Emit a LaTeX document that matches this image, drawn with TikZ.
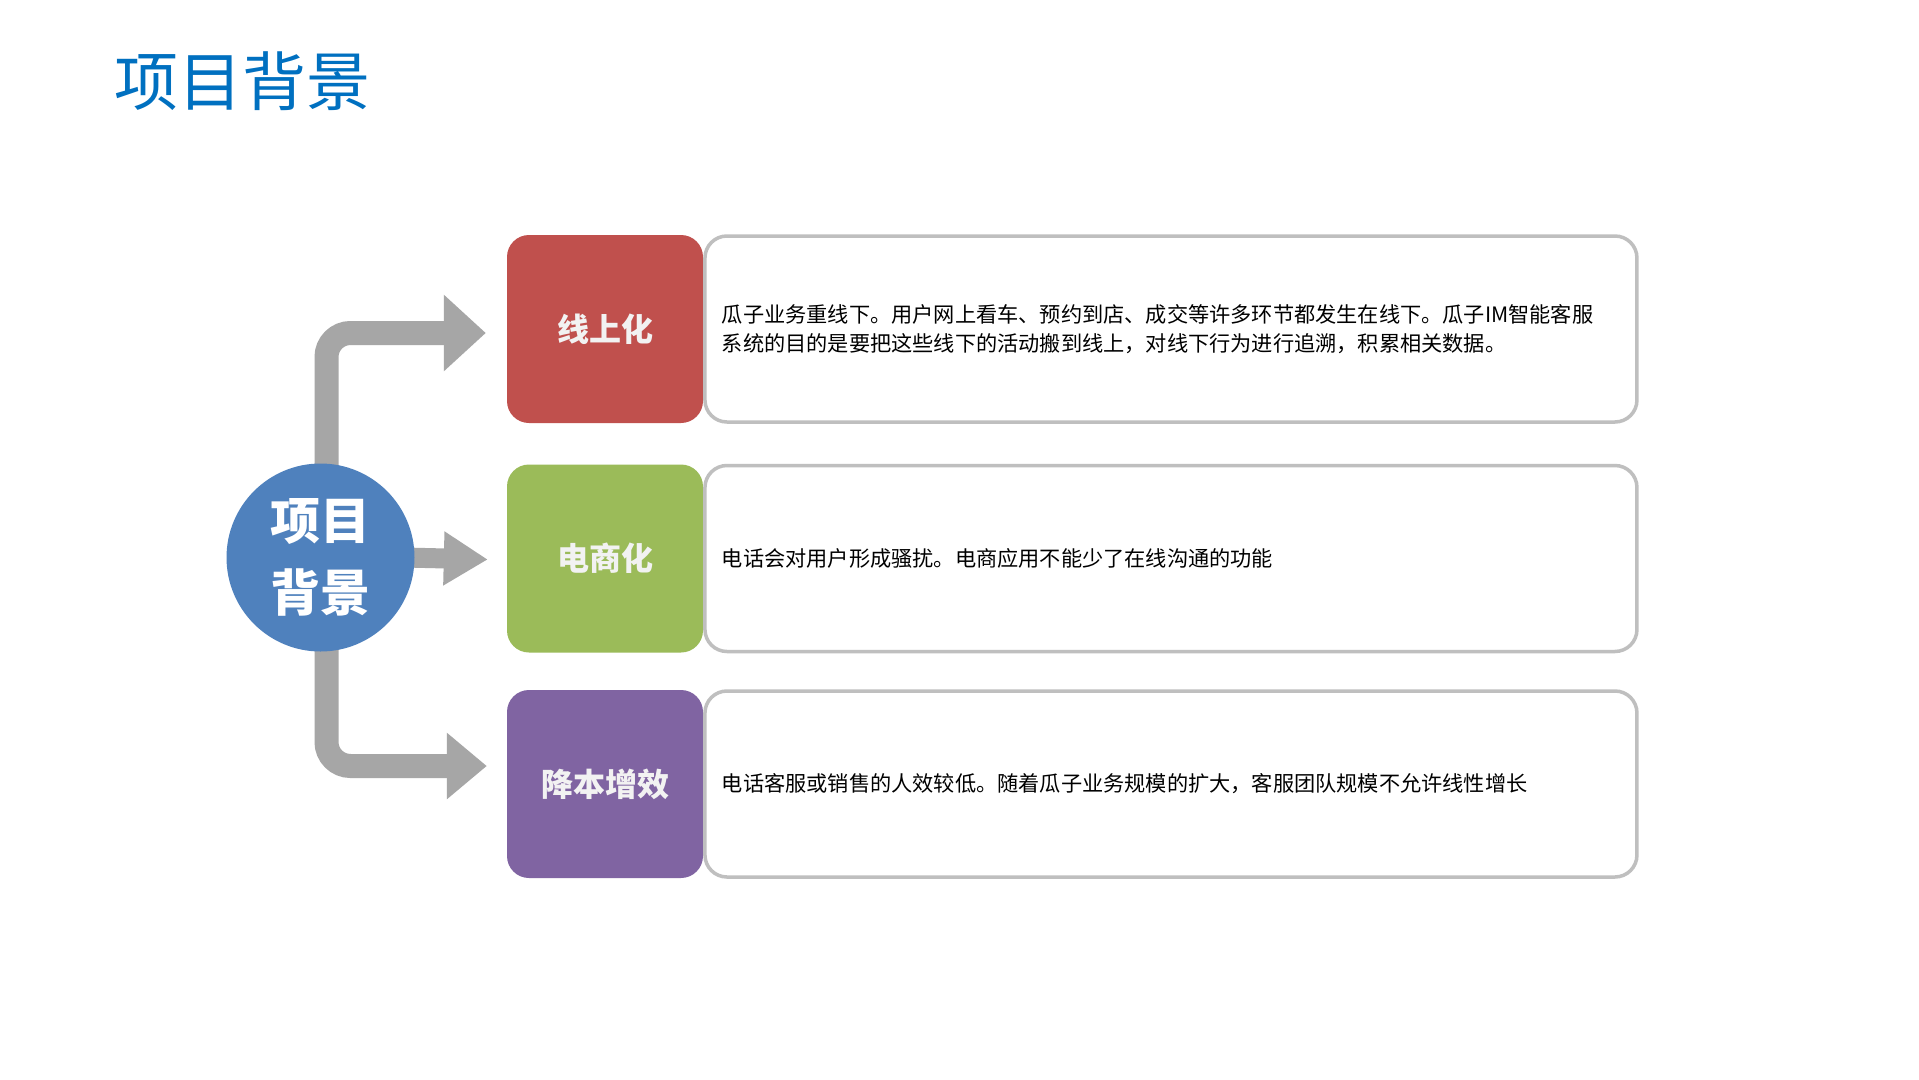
\documentclass[tikz,border=0pt]{standalone}
\usepackage{fontspec}
\newfontfamily\cjk{Noto Sans CJK SC}
\usetikzlibrary{arrows.meta}
\usetikzlibrary{backgrounds}

\definecolor{titleblue}{RGB}{0,112,192}
\definecolor{bgblue}{RGB}{79,129,189}
\definecolor{onlinered}{RGB}{192,80,77}
\definecolor{ecomgreen}{RGB}{155,187,89}
\definecolor{costpurple}{RGB}{128,100,162}
\definecolor{arrowgray}{RGB}{166,166,166}
\definecolor{bordergray}{RGB}{191,191,191}
\definecolor{labelwhite}{RGB}{242,242,242}

\begin{document}
\begin{tikzpicture}[x=1pt,y=-1pt,
  tag/.style={rounded corners=22pt,minimum width=196pt,minimum height=188pt,
    inner sep=0pt,text=labelwhite,font=\cjk\bfseries\fontsize{32}{38}\selectfont},
  descbox/.style={draw=bordergray,line width=3.5pt,fill=white,rounded corners=22pt,
    minimum width=932pt,minimum height=186pt,inner xsep=17pt,inner ysep=0pt,
    text width=898pt,align=left,font=\cjk\fontsize{21.2}{28.5}\selectfont},
  flow/.style={draw=arrowgray,line width=#1,rounded corners=24pt}]

  \useasboundingbox (0,0) rectangle (1919,1079);

  \node[anchor=west,inner sep=0pt,text=titleblue,font=\cjk\fontsize{64}{72}\selectfont]
    (title) at (114,81) {项目背景};

  \node[circle,fill=bgblue,minimum size=188pt,inner sep=0pt,text=white,align=center,
    font=\cjk\bfseries\fontsize{50}{72}\selectfont] (bg) at (320.5,557.5) {项目\\背景};

  \node[tag,fill=onlinered] (l1) at (605,329) {线上化};
  \node[descbox,anchor=west] (d1) at (l1.east)
    {瓜子业务重线下。用户网上看车、预约到店、成交等许多环节都发生在线下。瓜子IM智能客服\\
     系统的目的是要把这些线下的活动搬到线上，对线下行为进行追溯，积累相关数据。};

  \node[tag,fill=ecomgreen] (l2) at (605,558.5) {电商化};
  \node[descbox,anchor=west] (d2) at (l2.east)
    {电话会对用户形成骚扰。电商应用不能少了在线沟通的功能};

  \node[tag,fill=costpurple] (l3) at (605,784) {降本增效};
  \node[descbox,anchor=west] (d3) at (l3.east)
    {电话客服或销售的人效较低。随着瓜子业务规模的扩大，客服团队规模不允许线性增长};

  \begin{scope}[on background layer]
    \fill[white] (0,0) rectangle (1919,1079);
    \draw[flow=24pt,-{Triangle[length=42pt,width=74pt]}]
      ([xshift=6pt,yshift=-10pt]bg.north) |- ([xshift=-21pt,yshift=-4pt]l1.west);
    \draw[flow=20pt,-{Triangle[length=44pt,width=51pt]}]
      ([xshift=-10pt]bg.east) -- ([xshift=-19pt,yshift=-1pt]l2.west);
    \draw[flow=24pt,-{Triangle[length=40pt,width=64pt]}]
      ([xshift=6pt,yshift=10pt]bg.south) |- ([xshift=-20pt,yshift=18pt]l3.west);
  \end{scope}

\end{tikzpicture}
\end{document}
